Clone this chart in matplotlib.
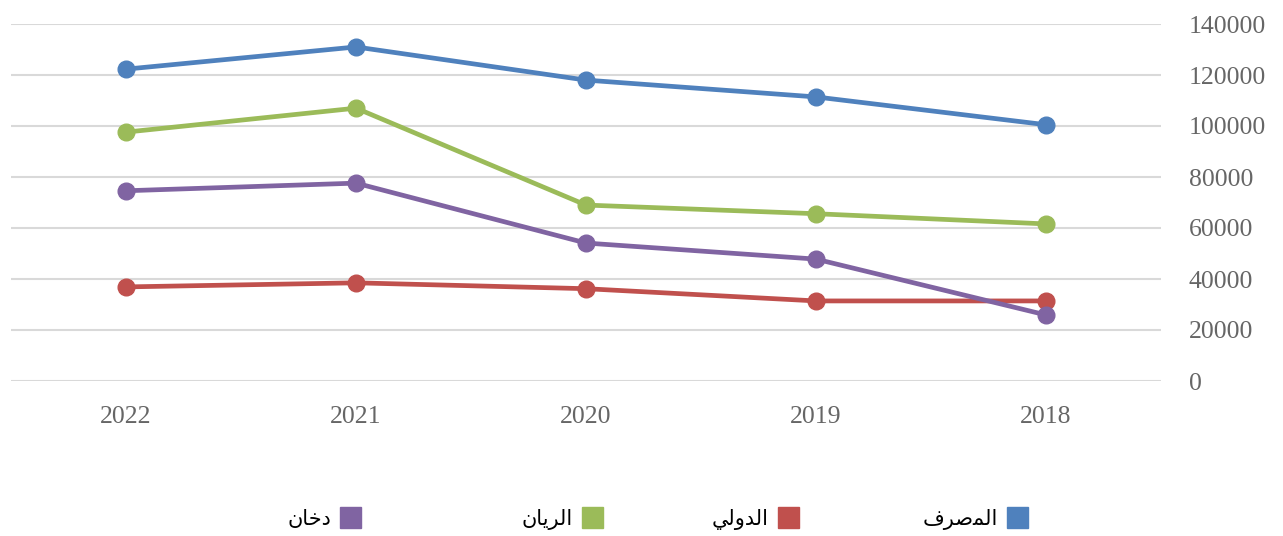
import matplotlib
matplotlib.use("Agg")
import matplotlib.pyplot as plt
from matplotlib.patches import Rectangle

years = ["2022", "2021", "2020", "2019", "2018"]
masraf = [122300, 131000, 118000, 111400, 100500]
dawli = [36900, 38500, 36200, 31400, 31400]
rayan = [97600, 107000, 69000, 65600, 61600]
dukhan = [74600, 77600, 54100, 47800, 25900]

# legend labels (Arabic, written in visual order with presentation forms so they render joined, RTL)
label_masraf = "\uFED1\uFEAE\uFEBB\uFEE4\uFEDF\uFE8D"   # المصرف
label_dawli = "\uFEF2\uFEDF\uFEED\uFEAA\uFEDF\uFE8D"    # الدولي
label_rayan = "\uFEE5\uFE8E\uFEF3\uFEAE\uFEDF\uFE8D"    # الريان
label_dukhan = "\uFEE5\uFE8E\uFEA7\uFEA9"               # دخان

series = [
    (masraf, "#4F81BD", label_masraf),
    (dawli, "#C0504D", label_dawli),
    (rayan, "#9BBB59", label_rayan),
    (dukhan, "#8064A2", label_dukhan),
]

fig = plt.figure(figsize=(12.83, 5.36), dpi=100)
W, H = 1283, 536
ax = fig.add_axes([11 / W, (H - 381) / H, 1150 / W, (381 - 24) / H])

x = list(range(len(years)))
for vals, col, lab in series:
    ax.plot(x, vals, color=col, lw=3.4, marker="o", markersize=12, zorder=3,
            solid_capstyle="round", solid_joinstyle="round")

ax.set_xlim(-0.5, 4.5)
ax.set_ylim(0, 140000)
ax.set_yticks(range(0, 140001, 20000))
ax.set_xticks(x)
ax.set_xticklabels(years)
ax.yaxis.tick_right()
ax.grid(axis="y", color="#D9D9D9", lw=1.5)
ax.set_axisbelow(True)
for s in ax.spines.values():
    s.set_visible(False)
ax.tick_params(length=0, labelsize=18.5, labelcolor="#666666")
ax.tick_params(axis="y", pad=20)
ax.tick_params(axis="x", pad=18)
for t in ax.get_xticklabels() + ax.get_yticklabels():
    t.set_fontfamily("Liberation Serif")

# legend (RTL layout: square to the right of the label)
sq_x = [1007, 778, 582, 340]
for (vals, col, lab), sx in zip(series, sq_x):
    fig.patches.append(Rectangle((sx / W, (H - 528) / H), 21 / W, 21 / H,
                                 transform=fig.transFigure, color=col, figure=fig))
    fig.text((sx - 9) / W, (H - 519) / H, lab, ha="right", va="center",
             fontsize=15, color="#000000", family=["DejaVu Sans"])

fig.savefig("out.png", dpi=100)
